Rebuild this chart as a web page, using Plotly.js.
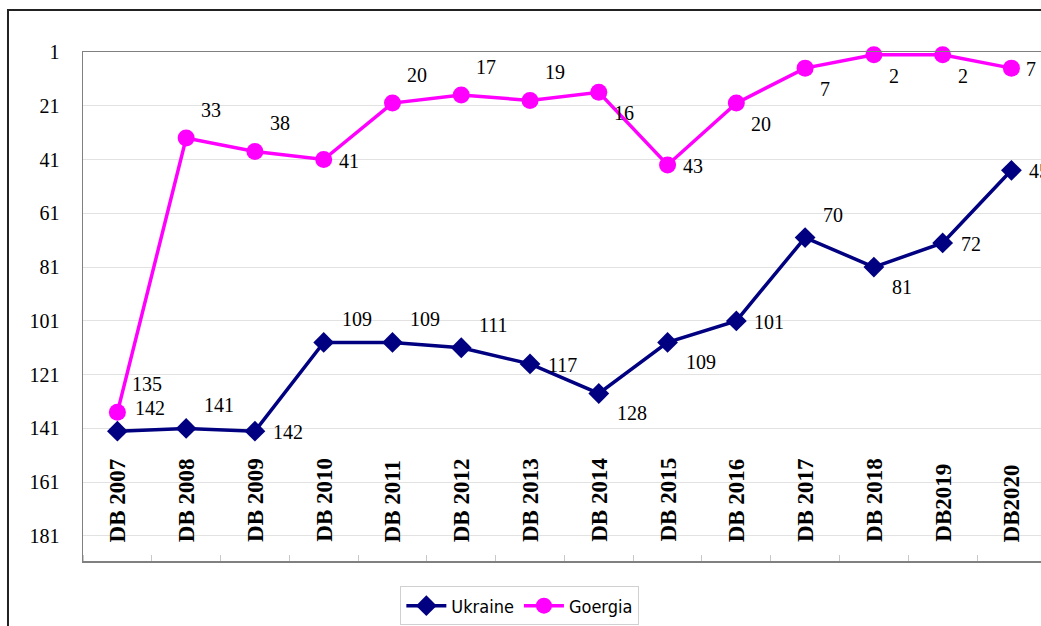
<!DOCTYPE html>
<html>
<head>
<meta charset="utf-8">
<script src="https://cdn.plot.ly/plotly-3.0.1.min.js"></script>
<style>
html,body{margin:0;padding:0;background:#fff;}
#chart{width:1041px;height:626px;}
</style>
</head>
<body>
<div id="chart"></div>
<script>
const categories = ["DB 2007","DB 2008","DB 2009","DB 2010","DB 2011","DB 2012","DB 2013","DB 2014","DB 2015","DB 2016","DB 2017","DB 2018","DB2019","DB2020"];
const ukraine = [142,141,142,109,109,111,117,128,109,101,70,81,72,45];
const georgia = [135,33,38,41,20,17,19,16,43,20,7,2,2,7];
const ukraineLabelPos = ["top","top","middle","top","top","top","middle","bottom","bottom","middle","top","bottom","middle","middle"];
const georgiaLabelPos = ["top","top","top","middle","top","top","top","bottom","middle","bottom","bottom","bottom","bottom","middle"];
const yTicks = [1,21,41,61,81,101,121,141,161,181];

const xIdx = categories.map((c,i)=>i);
const SERIF = "'Liberation Serif', 'Times New Roman', Times, serif";
const NARROW = "'DejaVu Sans Condensed', 'Liberation Sans', sans-serif";
const labelFont = {family:SERIF, size:20, color:"#000"};

// label placement styles (pixel offsets from the point, to the right of it)
const labelStyle = {
  Ukraine: {dx:16, top:23, middle:-1, bottom:-20},
  Goergia: {dx:13, top:28, middle:-1, bottom:-21}
};

const traces = [
  {
    x: xIdx, y: ukraine, name: "Ukraine", type: "scatter", mode: "lines+markers",
    line: {color:"#000080", width:3.5},
    marker: {symbol:"diamond", size:16, color:"#000080"},
    cliponaxis: false
  },
  {
    x: xIdx, y: georgia, name: "Goergia", type: "scatter", mode: "lines+markers",
    line: {color:"#FF00FF", width:3.5},
    marker: {symbol:"circle", size:17, color:"#FF00FF"},
    cliponaxis: false
  }
];

function valueLabels(name, values, positions){
  const st = labelStyle[name];
  return values.map((v,i)=>({
    x: xIdx[i], y: v, xref:"x", yref:"y",
    text: String(v), showarrow:false,
    xanchor:"left", yanchor:"middle",
    xshift: st.dx, yshift: st[positions[i]],
    font: labelFont
  }));
}

const xLabelAnnotations = categories.map((c,i)=>({
  x: xIdx[i], xref: "x", y: 0, yref: "paper",
  text: "<b>" + c + "</b>", showarrow: false, textangle: -90,
  xanchor: "center", yanchor: "bottom", yshift: 17,
  font: {family:SERIF, size:23, color:"#000"}
}));

const layout = {
  width: 1041, height: 626,
  margin: {l:83, r:0, t:52, b:65, pad:0},
  paper_bgcolor: "#fff", plot_bgcolor: "#fff",
  showlegend: true,
  legend: {
    orientation: "h", x: 0.456, xanchor: "center", y: -0.05, yanchor: "top",
    font: {family:NARROW, size:18, color:"#000"},
    bordercolor: "#d0d0d0", borderwidth: 1, bgcolor: "#fff",
    itemwidth: 40
  },
  xaxis: {
    range: [-0.5, 13.43],
    tickmode: "array", tickvals: xIdx,
    showticklabels: false,
    ticks: "", showgrid: false, zeroline: false,
    showline: true, linecolor: "#808080", linewidth: 1.5, mirror: true,
    minor: {tick0: 0.5, dtick: 1, ticks: "inside", ticklen: 6, tickcolor: "#c8c8c8", showgrid: false},
    fixedrange: true
  },
  yaxis: {
    range: [190.3, 1],
    tickmode: "array", tickvals: yTicks, ticktext: yTicks.map(String),
    tickfont: {family:SERIF, size:20, color:"#000"},
    ticks: "", ticklabelstandoff: 18,
    showgrid: true, gridcolor: "#e2e2e2", gridwidth: 1,
    zeroline: false, showline: true, linecolor: "#808080", linewidth: 1.5,
    fixedrange: true
  },
  annotations: xLabelAnnotations
    .concat(valueLabels("Goergia", georgia, georgiaLabelPos))
    .concat(valueLabels("Ukraine", ukraine, ukraineLabelPos)),
  shapes: [
    {type:"rect", xref:"paper", yref:"paper", x0:-0.0783, x1:1.2, y0:-0.3, y1:1.0825,
     line:{color:"#222", width:2}, fillcolor:"rgba(0,0,0,0)", layer:"below"}
  ]
};

Plotly.newPlot("chart", traces, layout, {displayModeBar:false, staticPlot:true});
</script>
</body>
</html>
